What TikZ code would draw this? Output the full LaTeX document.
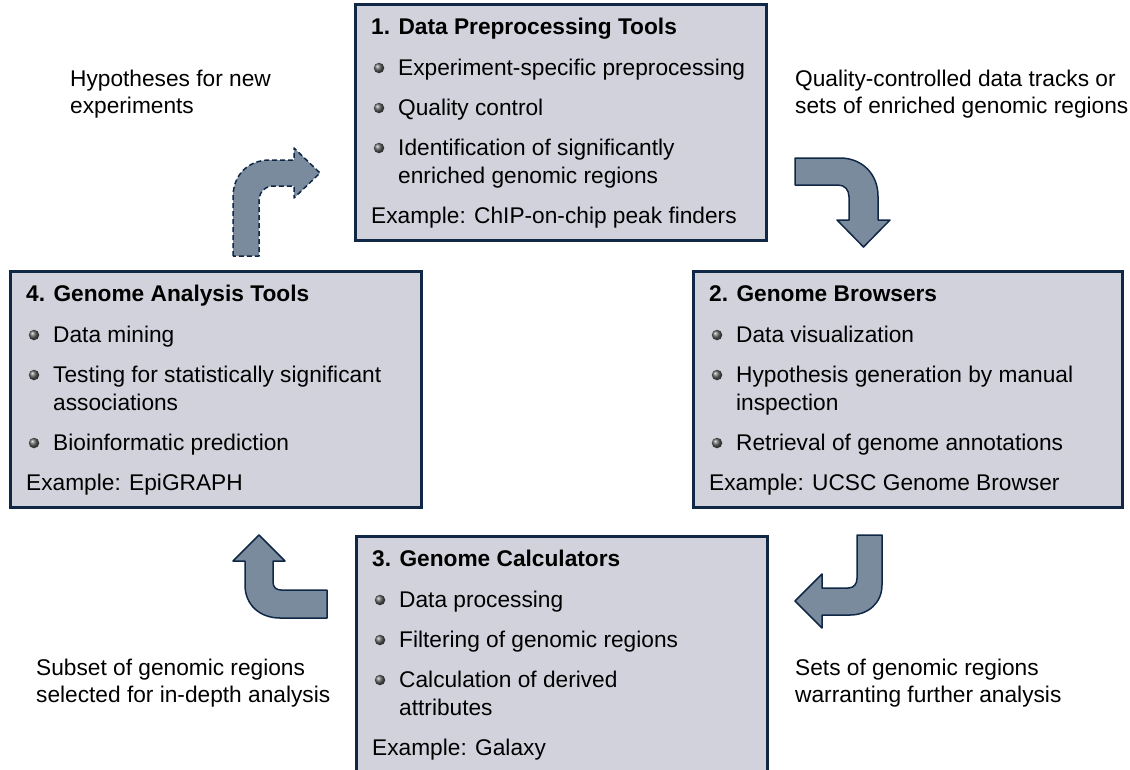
\documentclass[tikz,border=0pt]{standalone}
\usepackage{fontspec}
\setmainfont{Liberation Sans}
\definecolor{boxfill}{RGB}{210,210,220}
\definecolor{navy}{RGB}{16,40,70}
\definecolor{arrowfill}{RGB}{122,139,158}
\tikzset{
  box/.style={draw=navy, line width=2.5pt, fill=boxfill, anchor=north west,
    minimum width=411pt, minimum height=236pt, inner sep=0},
  ttl/.style={anchor=base west, font=\fontsize{22.7}{27}\selectfont\bfseries, inner sep=0},
  txt/.style={anchor=base west, font=\fontsize{22.7}{27}\selectfont, inner sep=0},
  bul/.style={circle, inner sep=0, minimum size=10.5pt, shading=ball, ball color=gray!75!black},
  blockarrow/.style={fill=arrowfill, draw=navy, line width=1.5pt, line join=round},
}
\newcommand\bitem[4]{%
  \node[bul] (#3b) at (#1+25,#2-7) {};
  \node[txt] (#3) at (#1+44,#2) {#4};}
\newcommand\bcont[4]{\node[txt] (#3) at (#1+44,#2) {#4};}
\begin{document}
\begin{tikzpicture}[x=1pt,y=-1pt]
\useasboundingbox (0,0) rectangle (1130,769);

% boxes
\node[box] (b1) at (354,3) {};
\node[box] (b4) at (9,270) {};
\node[box, minimum width=429pt] (b2) at (692,270) {};
\node[box] (b3) at (355,535) {};

% box 1
\node[ttl] (t1) at (371,34) {1. Data Preprocessing Tools};
\bitem{354}{75}{i11}{Experiment-specific preprocessing}
\bitem{354}{115}{i12}{Quality control}
\bitem{354}{155}{i13}{Identification of significantly}
\bcont{354}{183}{i13c}{enriched genomic regions}
\node[txt] (e1) at (371,223) {Example: ChIP-on-chip peak finders};

% box 4
\node[ttl] (t4) at (26,301) {4. Genome Analysis Tools};
\bitem{9}{342}{i41}{Data mining}
\bitem{9}{382}{i42}{Testing for statistically significant}
\bcont{9}{410}{i42c}{associations}
\bitem{9}{450}{i43}{Bioinformatic prediction}
\node[txt] (e4) at (26,490) {Example: EpiGRAPH};

% box 2
\node[ttl] (t2) at (709,301) {2. Genome Browsers};
\bitem{692}{342}{i21}{Data visualization}
\bitem{692}{382}{i22}{Hypothesis generation by manual}
\bcont{692}{410}{i22c}{inspection}
\bitem{692}{450}{i23}{Retrieval of genome annotations}
\node[txt] (e2) at (709,490) {Example: UCSC Genome Browser};

% box 3
\node[ttl] (t3) at (372,566) {3. Genome Calculators};
\bitem{355}{607}{i31}{Data processing}
\bitem{355}{647}{i32}{Filtering of genomic regions}
\bitem{355}{687}{i33}{Calculation of derived}
\bcont{355}{715}{i33c}{attributes}
\node[txt] (e3) at (372,755) {Example: Galaxy};

% labels
\node[txt] (l1a) at (70,86) {Hypotheses for new};
\node[txt] (l1b) at (70,113) {experiments};
\node[txt] (l2a) at (795,86) {Quality-controlled data tracks or};
\node[txt] (l2b) at (795,113) {sets of enriched genomic regions};
\node[txt] (l3a) at (36,675) {Subset of genomic regions};
\node[txt] (l3b) at (36,702) {selected for in-depth analysis};
\node[txt] (l4a) at (795,675) {Sets of genomic regions};
\node[txt] (l4b) at (795,702) {warranting further analysis};

% block arrows
\draw[blockarrow, dashed, dash pattern=on 5pt off 3pt]
  (233,256) -- (233,197) .. controls (233,175) and (248,160) .. (270,160)
  -- (294,160) -- (294,148) -- (320,173) -- (294,198) -- (294,186)
  -- (274,186) .. controls (265,186) and (259,192) .. (259,201) -- (259,256) -- cycle;
\draw[blockarrow]
  (795,158) -- (840,158) .. controls (862,158) and (878,174) .. (878,196)
  -- (878,220) -- (890,220) -- (863.5,247) -- (837,220) -- (849,220)
  -- (849,197) .. controls (849,190) and (845,185) .. (838,185) -- (795,185) -- cycle;
\draw[blockarrow]
  (857,535) -- (882,535) -- (882,585) .. controls (882,603) and (868,615) .. (850,615)
  -- (822,615) -- (822,628) -- (795,601) -- (822,574) -- (822,588)
  -- (848,588) .. controls (854,588) and (857,584) .. (857,578) -- cycle;
\draw[blockarrow]
  (259,535) -- (285,561) -- (273,561) -- (273,582) .. controls (273,587) and (276,590) .. (281,590)
  -- (327,590) -- (327,618) -- (280,618) .. controls (260,618) and (245,605) .. (245,585)
  -- (245,561) -- (233,561) -- cycle;
\end{tikzpicture}
\end{document}
